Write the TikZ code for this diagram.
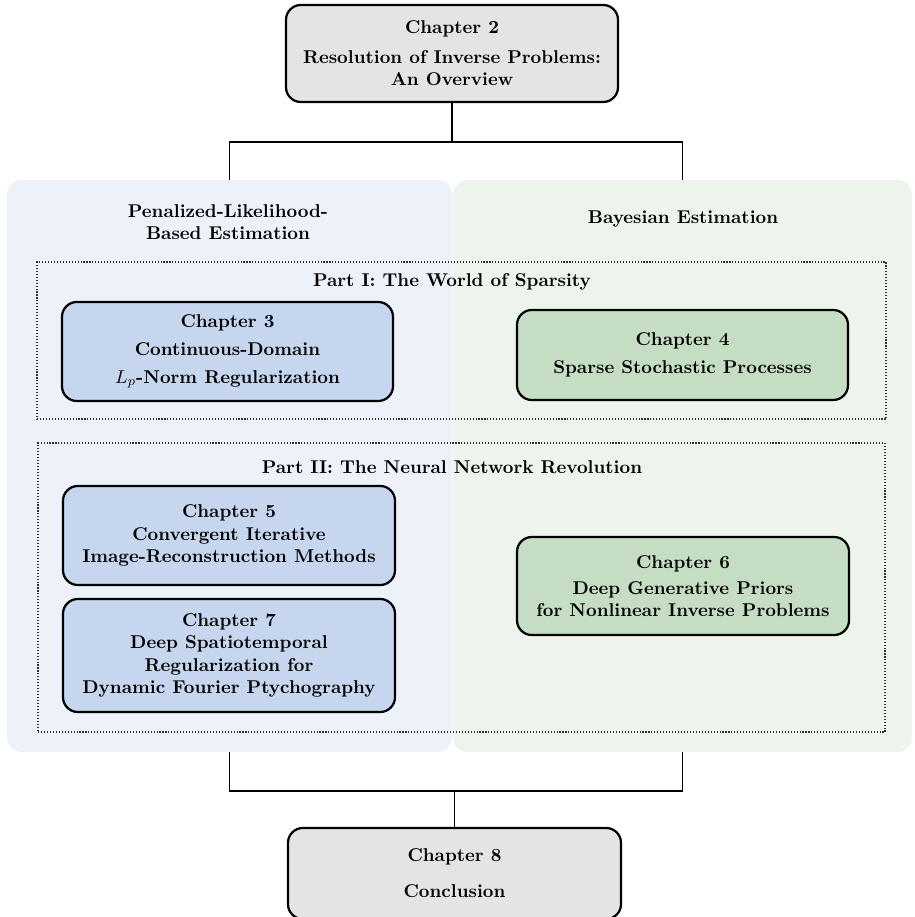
\documentclass[tikz,border=0pt]{standalone}
\usetikzlibrary{calc}
\definecolor{boxgray}{HTML}{E4E4E4}
\definecolor{boxblue}{HTML}{C6D6EE}
\definecolor{boxgreen}{HTML}{C5DEC3}
\definecolor{bgblue}{HTML}{EDF1FA}
\definecolor{bggreen}{HTML}{EDF4EC}
\newcommand\pxu{0.54pt}
\tikzset{
  chap/.style={draw=black, line width=1.2pt, rounded corners=8pt, align=center,
    font=\bfseries, inner sep=0pt},
  greybox/.style={chap, fill=boxgray},
  bluebox/.style={chap, fill=boxblue},
  greenbox/.style={chap, fill=boxgreen},
  bgpanel/.style={rounded corners=8pt, inner sep=0pt},
  partbox/.style={draw=black!80, densely dotted, line width=0.6pt},
  conn/.style={draw=black, line width=0.9pt},
  lbl/.style={font=\bfseries, align=center, inner sep=0pt},
}
\begin{document}
\begin{tikzpicture}[x=0.54pt, y=-0.54pt]
\clip (0,0) rectangle (914,917);
% background panels
\node[bgpanel, fill=bgblue, minimum width=445*\pxu, minimum height=572*\pxu] (bgL) at (229.5,466) {};
\node[bgpanel, fill=bggreen, minimum width=459*\pxu, minimum height=572*\pxu] (bgR) at (682.5,466) {};
% panel titles
\node[lbl] (tL) at (228,222) {Penalized-Likelihood-\\Based Estimation};
\node[lbl] (tR) at (683,219) {Bayesian Estimation};
% part boxes
\node[partbox, minimum width=849*\pxu, minimum height=157*\pxu, inner sep=0pt] (p1) at (461.5,340.5) {};
\node[lbl] (p1l) at (452,282) {Part I: The World of Sparsity};
\node[partbox, minimum width=847*\pxu, minimum height=289*\pxu, inner sep=0pt] (p2) at (461.5,587.5) {};
\node[lbl] (p2l) at (452,467) {Part II: The Neural Network Revolution};
% chapter boxes
\node[greybox, minimum width=332*\pxu, minimum height=97*\pxu] (c2) at (452,53.5)
  {Chapter 2\\[4pt]Resolution of Inverse Problems:\\An Overview};
\node[bluebox, minimum width=331*\pxu, minimum height=99*\pxu] (c3) at (227.5,351.5)
  {Chapter 3\\[3pt]Continuous-Domain\\[3pt]$L_p$-Norm Regularization};
\node[greenbox, minimum width=331*\pxu, minimum height=90*\pxu] (c4) at (682.5,355)
  {Chapter 4\\[3pt]Sparse Stochastic Processes};
\node[bluebox, minimum width=332*\pxu, minimum height=99*\pxu] (c5) at (229,535.5)
  {Chapter 5\\Convergent Iterative\\Image-Reconstruction Methods};
\node[bluebox, minimum width=332*\pxu, minimum height=113*\pxu] (c7) at (229,655.5)
  {Chapter 7\\Deep Spatiotemporal\\Regularization for\\Dynamic Fourier Ptychography};
\node[greenbox, minimum width=332*\pxu, minimum height=98*\pxu] (c6) at (683,586)
  {Chapter 6\\[2pt]Deep Generative Priors\\for Nonlinear Inverse Problems};
\node[greybox, minimum width=333*\pxu, minimum height=91*\pxu] (c8) at (454.5,873.5)
  {Chapter 8\\[7.5pt]Conclusion};
% connectors
\coordinate (j1) at (452,142);
\coordinate (j2) at (454.5,791);
\draw[conn] (c2.south) -- (j1);
\draw[conn] (bgL.north) |- (j1) -| (bgR.north);
\draw[conn] (bgL.south) |- (j2) -| (bgR.south);
\draw[conn] (j2) -- (c8.north);
\end{tikzpicture}
\end{document}
